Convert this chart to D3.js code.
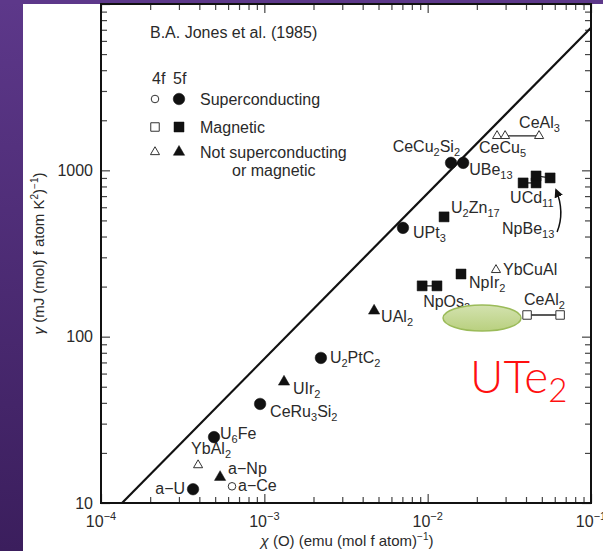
<!DOCTYPE html>
<html><head><meta charset="utf-8">
<script src="https://cdn.jsdelivr.net/npm/d3@7"></script>
<style>
html,body{margin:0;padding:0;background:#fff;}
svg{display:block;font-family:"Liberation Sans",Arial,Helvetica,sans-serif;}
</style>
</head><body>
<svg id="c" width="603" height="551"></svg>
<script>
// ---------------- data ----------------
const names = ["a−U","a−Ce","a−Np","YbAl_2","U_6Fe","CeRu_3Si_2","UIr_2","U_2PtC_2","UAl_2","NpOs_2",
  "NpIr_2","YbCuAl","CeAl_2","UPt_3","U_2Zn_17","CeCu_2Si_2","UBe_13","CeCu_5","CeAl_3","UCd_11","NpBe_13"];
const chiValues = [3.66e-4,6.34e-4,5.36e-4,3.93e-4,4.92e-4,9.42e-4,1.32e-3,2.22e-3,4.70e-3,9.25e-3,
  1.60e-2,2.62e-2,4.06e-2,7.06e-3,1.26e-2,1.39e-2,1.65e-2,2.66e-2,2.98e-2,3.84e-2,4.61e-2];
const gammaValues = [12.1,12.6,14.3,16.9,24.9,39.4,53.5,74.5,143,202,
  238,252,135,451,525,1109,1109,1611,1611,840,925];
// second end of a range (joined pairs), null if single
const chiValues2 = [null,null,null,null,null,null,null,null,null,1.14e-2,
  null,null,6.47e-2,null,null,null,null,null,4.81e-2,4.61e-2,5.62e-2];
const gammaValues2 = [null,null,null,null,null,null,null,null,null,202,
  null,null,135,null,null,null,null,null,1611,840,900];
const shell = ["5f","4f","5f","4f","5f","5f","5f","5f","5f","5f",
  "5f","4f","4f","5f","5f","5f","5f","4f","4f","5f","5f"];
const state = ["S","S","N","N","S","S","N","S","N","M",
  "M","N","M","S","M","S","S","N","N","M","M"];
const lineChi = [1.345e-4, 0.1];
const lineGamma = [10, 7200];
const xTickExps = [-4,-3,-2,-1];
const yTickValues = [10,100,1000];
const legendItems = ["Superconducting","Magnetic","Not superconducting"];
const ellipseChi = [0.01242, 0.0373];
const ellipseGamma = [108, 155];
const arrowChi = [0.0620, 0.0694, 0.0611];
const arrowGamma = [426, 562, 762];

// ---------------- layout ----------------
const labelLayout = {
  "a−U":{dx:-8,dy:5,a:"end"}, "a−Ce":{dx:6,dy:5}, "a−Np":{dx:8,dy:-3}, "YbAl_2":{dx:-7,dy:-11},
  "U_6Fe":{dx:6,dy:2}, "CeRu_3Si_2":{dx:10,dy:13}, "UIr_2":{dx:9,dy:12}, "U_2PtC_2":{dx:9,dy:5},
  "UAl_2":{dx:7,dy:11}, "NpOs_2":{dx:1,dy:21}, "NpIr_2":{dx:8,dy:14}, "YbCuAl":{dx:7,dy:5},
  "CeAl_2":{dx:-3,dy:-10}, "UPt_3":{dx:10,dy:10}, "U_2Zn_17":{dx:7,dy:-4},
  "CeCu_2Si_2":{dx:9,dy:-11,a:"end"}, "UBe_13":{dx:6,dy:12}, "CeCu_5":{dx:-18,dy:17},
  "CeAl_3":{dx:14,dy:-8}, "UCd_11":{dx:-13,dy:20}, "NpBe_13":{dx:-34,dy:58}
};
const L = 101, R = 591, T = 4, B = 503;
const svg = d3.select("#c");

// background purple frame
const defs = svg.append("defs");
const g1 = defs.append("linearGradient").attr("id","pur").attr("x1",0).attr("y1",0).attr("x2",0).attr("y2",1);
g1.append("stop").attr("offset","0%").attr("stop-color","#5d388a");
g1.append("stop").attr("offset","100%").attr("stop-color","#3b1e5d");
const g2 = defs.append("linearGradient").attr("id","ell").attr("x1",0).attr("y1",0).attr("x2",0).attr("y2",1);
g2.append("stop").attr("offset","0%").attr("stop-color","#d3e2af");
g2.append("stop").attr("offset","100%").attr("stop-color","#b9d07f");
svg.append("rect").attr("x",0).attr("y",0).attr("width",603).attr("height",551).attr("fill","#fff");
svg.append("rect").attr("x",0).attr("y",0).attr("width",23).attr("height",551).attr("fill","url(#pur)");
svg.append("rect").attr("x",0).attr("y",0).attr("width",603).attr("height",4).attr("fill","#5d388a");

const x = d3.scaleLog().domain([1e-4,1e-1]).range([L,R]);
const y = d3.scaleLog().domain([10,1e4]).range([B,T]);

// minor ticks
const minorX = [], minorY = [];
for (let e=-4;e<-1;e++) for (let m=2;m<=9;m++) minorX.push(m*Math.pow(10,e));
for (let e=1;e<4;e++) for (let m=2;m<=9;m++) minorY.push(m*Math.pow(10,e));
const majorX = xTickExps.map(e=>Math.pow(10,e));
const majorY = [10,100,1000,10000];

function styleAxis(g){ g.select(".domain").remove(); g.selectAll("line").attr("stroke","#444").attr("stroke-width",1.2); g.selectAll("text").remove(); }
svg.append("g").attr("transform",`translate(0,${B})`).call(d3.axisBottom(x).tickValues(majorX).tickSize(-9)).call(styleAxis);
svg.append("g").attr("transform",`translate(0,${B})`).call(d3.axisBottom(x).tickValues(minorX).tickSize(-6)).call(styleAxis);
svg.append("g").attr("transform",`translate(0,${T})`).call(d3.axisTop(x).tickValues(majorX).tickSize(-9)).call(styleAxis);
svg.append("g").attr("transform",`translate(0,${T})`).call(d3.axisTop(x).tickValues(minorX).tickSize(-6)).call(styleAxis);
svg.append("g").attr("transform",`translate(${L},0)`).call(d3.axisLeft(y).tickValues(majorY).tickSize(-9)).call(styleAxis);
svg.append("g").attr("transform",`translate(${L},0)`).call(d3.axisLeft(y).tickValues(minorY).tickSize(-6)).call(styleAxis);
svg.append("g").attr("transform",`translate(${R},0)`).call(d3.axisRight(y).tickValues(majorY).tickSize(-9)).call(styleAxis);
svg.append("g").attr("transform",`translate(${R},0)`).call(d3.axisRight(y).tickValues(minorY).tickSize(-6)).call(styleAxis);

// frame
svg.append("rect").attr("x",L).attr("y",T).attr("width",R-L).attr("height",B-T)
  .attr("fill","none").attr("stroke","#111").attr("stroke-width",2);

// tick labels
const txtCol = "#2a2a2a";
xTickExps.forEach(e=>{
  const t = svg.append("text").attr("x",x(Math.pow(10,e))).attr("y",527).attr("text-anchor","middle")
    .attr("font-size",16).attr("fill",txtCol);
  t.append("tspan").text("10");
  t.append("tspan").text("−"+(-e)).attr("font-size",11).attr("dy",-7);
});
yTickValues.forEach(v=>{
  svg.append("text").attr("x",93).attr("y",y(v)).attr("dy","0.36em").attr("text-anchor","end")
    .attr("font-size",16).attr("fill",txtCol).text(v);
});

// axis titles
const xt = svg.append("text").attr("x",347).attr("y",546).attr("text-anchor","middle").attr("font-size",15).attr("fill",txtCol);
xt.append("tspan").text("χ").attr("font-style","italic");
xt.append("tspan").text(" (O) (emu (mol f atom)");
xt.append("tspan").text("−1").attr("font-size",10).attr("dy",-6);
xt.append("tspan").text(")").attr("dy",6);
const yt = svg.append("text").attr("transform",`translate(44,${(T+B)/2}) rotate(-90)`).attr("text-anchor","middle").attr("font-size",15).attr("fill",txtCol);
yt.append("tspan").text("γ").attr("font-style","italic");
yt.append("tspan").text(" (mJ (mol) f atom K");
yt.append("tspan").text("2").attr("font-size",10).attr("dy",-6);
yt.append("tspan").text(")").attr("dy",6);
yt.append("tspan").text("−1").attr("font-size",10).attr("dy",-6);
yt.append("tspan").text(")").attr("dy",6);

// citation
svg.append("text").attr("x",150).attr("y",38).attr("font-size",16).attr("fill",txtCol).text("B.A. Jones et al. (1985)");

// diagonal line
svg.append("line").attr("x1",x(lineChi[0])).attr("y1",y(lineGamma[0])).attr("x2",x(lineChi[1])).attr("y2",y(lineGamma[1]))
  .attr("stroke","#111").attr("stroke-width",2.2);

// marker helper
function marker(g, sh, st, cx, cy){
  const filled = sh==="5f";
  let type, size;
  if (st==="S"){ type=d3.symbolCircle; size = filled?105:45; }
  else if (st==="M"){ type=d3.symbolSquare; size = filled?100:72; }
  else { type=d3.symbolTriangle; size = filled?55:36; }
  g.append("path").attr("d",d3.symbol().type(type).size(size)()).attr("transform",`translate(${cx},${cy})`)
    .attr("fill",filled?"#111":"#fff").attr("stroke",filled?"#111":"#333").attr("stroke-width",filled?0.5:1);
}
function rich(t, str, sub){
  const parts = str.split(/_(\d+)/);
  let shifted=false;
  parts.forEach((p,i)=>{
    if(p==="") return;
    const s = t.append("tspan").text(p);
    if(i%2===1){ s.attr("font-size",sub).attr("dy",4); shifted=true; }
    else if(shifted){ s.attr("dy",-4); shifted=false; }
  });
}

// labels
const labG = svg.append("g").attr("font-size",16).attr("fill",txtCol);
names.forEach((n,i)=>{
  const lay = labelLayout[n];
  const t = labG.append("text").attr("x",x(chiValues[i])+lay.dx).attr("y",y(gammaValues[i])+lay.dy)
    .attr("text-anchor",lay.a||"start");
  rich(t,n,11);
});

// pair lines and markers
const mk = svg.append("g");
names.forEach((n,i)=>{
  if(chiValues2[i]!==null){
    mk.append("line").attr("x1",x(chiValues[i])).attr("y1",y(gammaValues[i]))
      .attr("x2",x(chiValues2[i])).attr("y2",y(gammaValues2[i])).attr("stroke","#222").attr("stroke-width",1.3);
  }
});
names.forEach((n,i)=>{
  marker(mk, shell[i], state[i], x(chiValues[i]), y(gammaValues[i]));
  if(chiValues2[i]!==null) marker(mk, shell[i], state[i], x(chiValues2[i]), y(gammaValues2[i]));
});

// curved arrow for NpBe13
defs.append("marker").attr("id","ah").attr("viewBox","0 0 10 10").attr("refX",8).attr("refY",5)
  .attr("markerWidth",6).attr("markerHeight",6).attr("orient","auto")
  .append("path").attr("d","M0,0L10,5L0,10z").attr("fill","#111");
const ap = d3.path();
ap.moveTo(x(arrowChi[0]),y(arrowGamma[0]));
ap.quadraticCurveTo(x(arrowChi[1]),y(arrowGamma[1]),x(arrowChi[2]),y(arrowGamma[2]));
svg.append("path").attr("d",ap.toString()).attr("fill","none").attr("stroke","#111").attr("stroke-width",1.5).attr("marker-end","url(#ah)");

// legend
const lg = svg.append("g").attr("font-size",16).attr("fill",txtCol);
lg.append("text").attr("x",152).attr("y",84).text("4f");
lg.append("text").attr("x",173).attr("y",84).text("5f");
const legStates = ["S","M","N"];
const legY = [99,127,152];
legStates.forEach((s,i)=>{
  marker(lg,"4f",s,155,legY[i]);
  marker(lg,"5f",s,179,legY[i]);
  lg.append("text").attr("x",200).attr("y",legY[i]+6).text(legendItems[i]);
});
lg.append("text").attr("x",232).attr("y",176).text("or magnetic");

// UTe2 highlight
svg.append("ellipse")
  .attr("cx",(x(ellipseChi[0])+x(ellipseChi[1]))/2).attr("cy",(y(ellipseGamma[0])+y(ellipseGamma[1]))/2)
  .attr("rx",(x(ellipseChi[1])-x(ellipseChi[0]))/2).attr("ry",(y(ellipseGamma[0])-y(ellipseGamma[1]))/2)
  .attr("fill","url(#ell)").attr("stroke","#9bbb59").attr("stroke-width",1.5);
const ut = svg.append("text").attr("x",470).attr("y",393).attr("fill","#ff1010")
  .attr("font-family","Lato, 'Open Sans', sans-serif").attr("font-weight",300).attr("font-size",46);
ut.append("tspan").text("UTe");
ut.append("tspan").text("2").attr("font-size",33).attr("dy",9);
</script>
</body></html>
